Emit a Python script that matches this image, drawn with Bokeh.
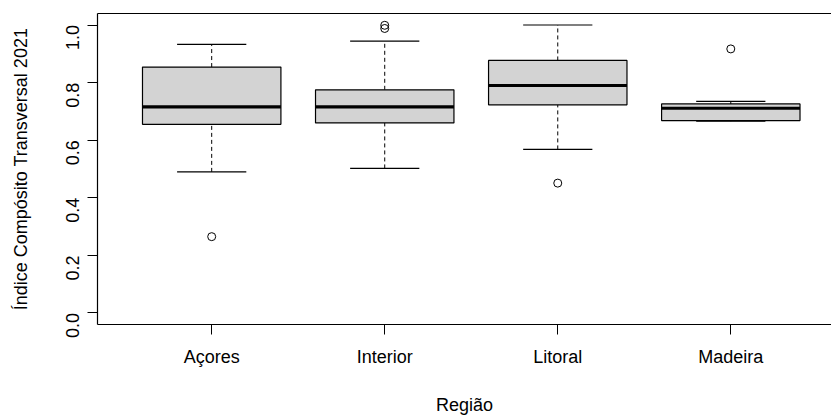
import math
import numpy as np
from bokeh.plotting import figure
from bokeh.models import Range1d, FixedTicker, LinearAxis, PrintfTickFormatter
from bokeh.embed import file_html
from bokeh.resources import INLINE

# Box-plot summary of the composite index per region
regions = ["Açores", "Interior", "Litoral", "Madeira"]
whisker_low = [0.490, 0.502, 0.568, 0.666]
q1 = [0.655, 0.660, 0.723, 0.668]
median = [0.716, 0.716, 0.790, 0.711]
q3 = [0.854, 0.775, 0.877, 0.726]
whisker_high = [0.933, 0.944, 1.000, 0.735]

# Points beyond the whiskers
outlier_region = ["Açores", "Interior", "Interior", "Litoral", "Madeira"]
outlier_value = [0.265, 0.999, 0.988, 0.451, 0.917]

y_ticks = [0.0, 0.2, 0.4, 0.6, 0.8, 1.0]

FONT = "Liberation Sans"
FONT_SIZE = "18px"

pos = np.arange(1, len(regions) + 1, dtype=float)
box_half = 0.4      # half box width
staple_half = 0.2   # half whisker-cap width
out_x = [regions.index(r) + 1 for r in outlier_region]

p = figure(
    width=831, height=417,
    x_range=Range1d(0.34, 4.582), y_range=Range1d(-0.04, 1.04),
    output_backend="svg", toolbar_location=None,
    min_border_left=97, min_border_right=0,
    min_border_top=13, min_border_bottom=88,
    background_fill_color="white", border_fill_color="white",
)
p.outline_line_color = None
p.xgrid.visible = False
p.ygrid.visible = False

# whiskers (dashed) and caps
p.segment(x0=pos, x1=pos, y0=q3, y1=whisker_high,
          line_color="black", line_width=1, line_dash="4 3")
p.segment(x0=pos, x1=pos, y0=whisker_low, y1=q1,
          line_color="black", line_width=1, line_dash="4 3")
p.segment(x0=pos - staple_half, x1=pos + staple_half, y0=whisker_high, y1=whisker_high,
          line_color="black", line_width=1.2)
p.segment(x0=pos - staple_half, x1=pos + staple_half, y0=whisker_low, y1=whisker_low,
          line_color="black", line_width=1.2)

# boxes
p.quad(left=pos - box_half, right=pos + box_half, bottom=q1, top=q3,
       fill_color="#d3d3d3", line_color="black", line_width=1.2)

# medians
p.segment(x0=pos - box_half, x1=pos + box_half, y0=median, y1=median,
          line_color="black", line_width=3.2, line_cap="butt")

# outliers
p.scatter(x=out_x, y=outlier_value, marker="circle", size=8,
          fill_color=None, line_color="black", line_width=1)

# x axis
xa = p.xaxis[0]
xa.ticker = FixedTicker(ticks=list(pos))
xa.major_label_overrides = {float(i + 1): r for i, r in enumerate(regions)}
xa.axis_label = "Região"

# y axis
ya = p.yaxis[0]
ya.ticker = FixedTicker(ticks=y_ticks)
ya.formatter = PrintfTickFormatter(format="%.1f")
ya.major_label_orientation = math.pi / 2
ya.axis_label = "Índice Compósito Transversal 2021"

for ax in (xa, ya):
    ax.axis_line_color = "black"
    ax.axis_line_width = 1.2
    ax.major_tick_line_color = "black"
    ax.major_tick_out = 10
    ax.major_tick_in = 0
    ax.minor_tick_line_color = None
    ax.major_label_text_font = FONT
    ax.major_label_text_font_size = FONT_SIZE
    ax.major_label_text_color = "black"
    ax.axis_label_text_font = FONT
    ax.axis_label_text_font_size = FONT_SIZE
    ax.axis_label_text_font_style = "normal"
    ax.axis_label_text_color = "black"

xa.major_label_standoff = 12
xa.axis_label_standoff = 25
ya.major_label_standoff = 15
ya.axis_label_standoff = 26

# top frame line
top = LinearAxis(ticker=FixedTicker(ticks=[]), major_label_text_font_size="0px",
                 major_tick_out=0, major_tick_in=0, minor_tick_out=0, minor_tick_in=0,
                 axis_line_color="black", axis_line_width=1.2)
p.add_layout(top, "above")

open("out.html", "w").write(file_html(p, INLINE))
